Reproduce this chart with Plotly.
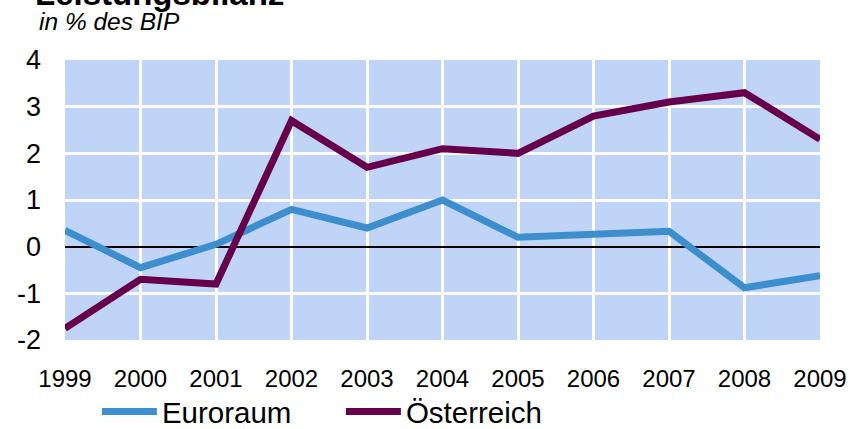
import plotly.graph_objects as go

years = [1999, 2000, 2001, 2002, 2003, 2004, 2005, 2006, 2007, 2008, 2009]
euroraum = [0.35, -0.45, 0.05, 0.8, 0.4, 1.0, 0.2, 0.28, 0.33, -0.88, -0.62]
oesterreich = [-1.75, -0.7, -0.8, 2.7, 1.7, 2.1, 2.0, 2.8, 3.1, 3.3, 2.3]
y_ticks = [-2, -1, 0, 1, 2, 3, 4]
y_labels = ["-2", "-1", "0", "1", "2", "3", "4"]

FONT = "Liberation Sans, Arial, sans-serif"

fig = go.Figure()
fig.add_trace(go.Scatter(x=years, y=euroraum, mode="lines", name="Euroraum",
                         line=dict(color="#3C8FCC", width=7)))
fig.add_trace(go.Scatter(x=years, y=oesterreich, mode="lines", name="Österreich",
                         line=dict(color="#66004C", width=7)))

fig.update_layout(
    width=850, height=429,
    margin=dict(l=65, r=30, t=60, b=89, autoexpand=False),
    paper_bgcolor="white",
    plot_bgcolor="#C0D4F8",
    font=dict(family=FONT, color="black"),
    showlegend=True,
    legend=dict(orientation="h", x=0.114, xanchor="left", xref="container",
                y=0.04, yanchor="middle", yref="container",
                font=dict(size=29.5, family=FONT), itemwidth=55, entrywidth=174,
                bgcolor="rgba(0,0,0,0)", traceorder="normal"),
    xaxis=dict(range=[1999, 2009], tickvals=years, ticktext=[str(y) for y in years],
               showgrid=True, gridcolor="white", gridwidth=3, zeroline=False,
               tickfont=dict(size=24, family=FONT), ticks="", ticklabelstandoff=22,
               showline=False, automargin=False),
    yaxis=dict(range=[-2, 4], tickvals=y_ticks, ticktext=y_labels, showgrid=True,
               gridcolor="white", gridwidth=3, zeroline=True, zerolinecolor="black",
               zerolinewidth=2, tickfont=dict(size=27, family=FONT), ticks="",
               ticklabelstandoff=23, showline=False, automargin=False),
    annotations=[
        dict(text="<b>Leistungsbilanz</b>", xref="paper", yref="paper", x=-0.0424, y=1.236,
             xanchor="left", yanchor="middle", showarrow=False,
             font=dict(size=33, family=FONT, color="black")),
        dict(text="<i>in % des BIP</i>", xref="paper", yref="paper", x=-0.037, y=1.138,
             xanchor="left", yanchor="middle", showarrow=False,
             font=dict(size=24.5, family=FONT, color="black")),
    ],
)

fig.write_html("out.html", config={"displayModeBar": False},
               post_script="document.body.style.margin='0';document.body.style.overflow='hidden';")
